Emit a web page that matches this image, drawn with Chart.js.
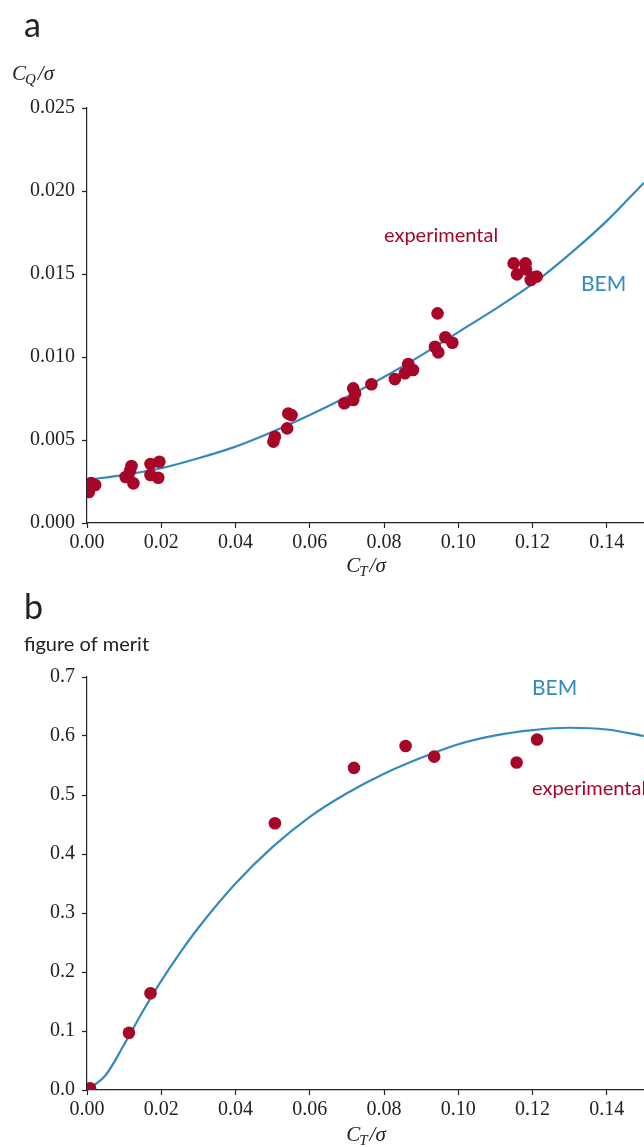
<!DOCTYPE html>
<html>
<head>
<meta charset="utf-8">
<script src="https://cdn.jsdelivr.net/npm/chart.js@4"></script>
<style>
  html, body { margin: 0; padding: 0; background: #fff; overflow: hidden; }
  .panel { position: absolute; left: 0; width: 644px; }
  #pa { top: 0; height: 580px; }
  #pb { top: 580px; height: 567px; }
</style>
</head>
<body>
<div class="panel" id="pa"><canvas id="torque"></canvas></div>
<div class="panel" id="pb"><canvas id="merit"></canvas></div>
<script>
// measured torque coefficient vs thrust coefficient
const expCt = [0.0003, 0.0005, 0.0011, 0.0022,
  0.0120, 0.0116, 0.0111, 0.0104, 0.0125,
  0.0171, 0.0195, 0.0171, 0.0192,
  0.0502, 0.0506, 0.0539, 0.0542, 0.0551,
  0.0693, 0.0717, 0.0722, 0.0717, 0.0766, 0.0829,
  0.0856, 0.0865, 0.0878, 0.0867,
  0.0937, 0.0946, 0.0944, 0.0965, 0.0984,
  0.1149, 0.1181, 0.1182, 0.1158, 0.1195, 0.1211, 0.1203];
const expCq = [0.00229, 0.00187, 0.00241, 0.00229,
  0.00343, 0.00315, 0.00279, 0.00277, 0.00239,
  0.00355, 0.00369, 0.00289, 0.00273,
  0.00490, 0.00520, 0.00570, 0.00660, 0.00650,
  0.00721, 0.00741, 0.00781, 0.00811, 0.00836, 0.00867,
  0.00902, 0.00958, 0.00922, 0.00930,
  0.01062, 0.01028, 0.01263, 0.01119, 0.01086,
  0.01564, 0.01564, 0.01528, 0.01498, 0.01464, 0.01484, 0.01480];

// blade element momentum prediction
const bemCt = [0, 0.01, 0.02, 0.03, 0.04, 0.05, 0.06, 0.07, 0.08,
  0.09, 0.10, 0.11, 0.12, 0.13, 0.14, 0.15];
const bemCq = [0.0026, 0.0029, 0.0033, 0.0039, 0.0046, 0.0055, 0.0065, 0.0076, 0.0088,
  0.0101, 0.0115, 0.0129, 0.0144, 0.0162, 0.0182, 0.0205];

// measured figure of merit
const fomCt = [0.0008, 0.0113, 0.0171, 0.0506, 0.0719, 0.0858, 0.0935, 0.1157, 0.1212];
const fomExp = [0.003, 0.097, 0.164, 0.452, 0.546, 0.583, 0.565, 0.555, 0.594];

// BEM figure of merit
const bemFomCt = [0, 0.005, 0.01, 0.015, 0.02, 0.025, 0.03, 0.04, 0.05, 0.06, 0.07,
  0.08, 0.09, 0.10, 0.11, 0.12, 0.13, 0.14, 0.15];
const bemFom = [0, 0.025, 0.077, 0.133, 0.185, 0.232, 0.275, 0.350, 0.412, 0.463, 0.503,
  0.536, 0.563, 0.586, 0.601, 0.610, 0.614, 0.611, 0.600];

const RED = '#A60628';
const BLUE = '#348ABD';
const INK = '#222';
const SERIF = '"Liberation Serif", "DejaVu Serif", serif';
const SANS = 'Lato, "Open Sans", sans-serif';

const pts = (xs, ys) => xs.map((x, i) => ({ x: x, y: ys[i] }));

// C_sub / sigma in math italics
function drawRatio(ctx, x, y, sub, center) {
  ctx.save();
  ctx.fillStyle = INK;
  ctx.textBaseline = 'alphabetic';
  ctx.textAlign = 'left';
  const big = 'italic 21px ' + SERIF, small = 'italic 15px ' + SERIF;
  ctx.font = big;
  const wC = ctx.measureText('C').width;
  const wRest = ctx.measureText('/σ').width;
  ctx.font = small;
  const wSub = ctx.measureText(sub).width;
  let x0 = center ? x - (wC + wSub + wRest + 1) / 2 : x;
  ctx.font = big;
  ctx.fillText('C', x0, y);
  ctx.font = small;
  ctx.fillText(sub, x0 + wC - 1, y + 4);
  ctx.font = big;
  ctx.fillText('/σ', x0 + wC + wSub + 1, y);
  ctx.restore();
}

const labels = {
  id: 'labels',
  afterDraw(chart, args, opts) {
    const ctx = chart.ctx;
    (opts.texts || []).forEach(t => {
      ctx.save();
      ctx.font = t.font;
      ctx.fillStyle = t.color || INK;
      ctx.textAlign = 'left';
      ctx.textBaseline = 'alphabetic';
      ctx.fillText(t.text, t.x, t.y);
      ctx.restore();
    });
    (opts.ratios || []).forEach(r => drawRatio(ctx, r.x, r.y, r.sub, r.center));
  }
};

function axes(yMin, yMax, yStep, yDec) {
  const tickFont = { family: SERIF, size: 20 };
  return {
    x: {
      type: 'linear', min: 0, max: 0.15,
      afterFit: s => { s.height = 40; s.paddingLeft = 0; s.paddingRight = 0; },
      border: { display: true, color: INK, width: 1.2 },
      grid: { drawOnChartArea: false, drawTicks: true, tickLength: 5, color: INK, tickWidth: 1.2 },
      ticks: {
        stepSize: 0.02, includeBounds: false, autoSkip: false, maxRotation: 0,
        padding: 3, color: INK, font: tickFont,
        callback: v => v.toFixed(2)
      }
    },
    y: {
      type: 'linear', min: yMin, max: yMax,
      afterFit: s => { s.width = 87; s.paddingTop = 0; s.paddingBottom = 0; },
      border: { display: true, color: INK, width: 1.2 },
      grid: { drawOnChartArea: false, drawTicks: true, tickLength: 5, color: INK, tickWidth: 1.2 },
      ticks: {
        stepSize: yStep, autoSkip: false, padding: 7, color: INK, font: tickFont,
        callback: v => v.toFixed(yDec)
      }
    }
  };
}

function datasets(px, py, lx, ly) {
  return [{
    label: 'experimental',
    data: pts(px, py),
    showLine: false,
    pointRadius: 6.3,
    pointBackgroundColor: RED,
    pointBorderColor: RED,
    pointBorderWidth: 0
  }, {
    label: 'BEM',
    data: pts(lx, ly),
    showLine: true,
    borderColor: BLUE,
    borderWidth: 2.2,
    pointRadius: 0,
    cubicInterpolationMode: 'monotone'
  }];
}

new Chart(document.getElementById('torque'), {
  type: 'scatter',
  data: { datasets: datasets(expCt, expCq, bemCt, bemCq) },
  options: {
    responsive: true,
    maintainAspectRatio: false,
    animation: false,
    layout: { autoPadding: false, padding: { top: 108, bottom: 17, left: 0, right: 0 } },
    scales: axes(0, 0.025, 0.005, 3),
    plugins: {
      legend: { display: false },
      tooltip: { enabled: false },
      labels: {
        texts: [
          { text: 'a', x: 24, y: 37, font: '34px ' + SANS },
          { text: 'experimental', x: 384, y: 242, font: '20px ' + SANS, color: RED },
          { text: 'BEM', x: 581, y: 291, font: '21px ' + SANS, color: BLUE }
        ],
        ratios: [
          { x: 12, y: 80, sub: 'Q', center: false },
          { x: 366, y: 572, sub: 'T', center: true }
        ]
      }
    }
  },
  plugins: [labels]
});

new Chart(document.getElementById('merit'), {
  type: 'scatter',
  data: { datasets: datasets(fomCt, fomExp, bemFomCt, bemFom) },
  options: {
    responsive: true,
    maintainAspectRatio: false,
    animation: false,
    layout: { autoPadding: false, padding: { top: 97, bottom: 17, left: 0, right: 0 } },
    scales: axes(0, 0.7, 0.1, 1),
    plugins: {
      legend: { display: false },
      tooltip: { enabled: false },
      labels: {
        texts: [
          { text: 'b', x: 24, y: 39, font: '34px ' + SANS },
          { text: 'figure of merit', x: 24, y: 71, font: '20px ' + SANS },
          { text: 'BEM', x: 532, y: 115, font: '21px ' + SANS, color: BLUE },
          { text: 'experimental', x: 532, y: 215, font: '20px ' + SANS, color: RED }
        ],
        ratios: [
          { x: 366, y: 561, sub: 'T', center: true }
        ]
      }
    }
  },
  plugins: [labels]
});
</script>
</body>
</html>
